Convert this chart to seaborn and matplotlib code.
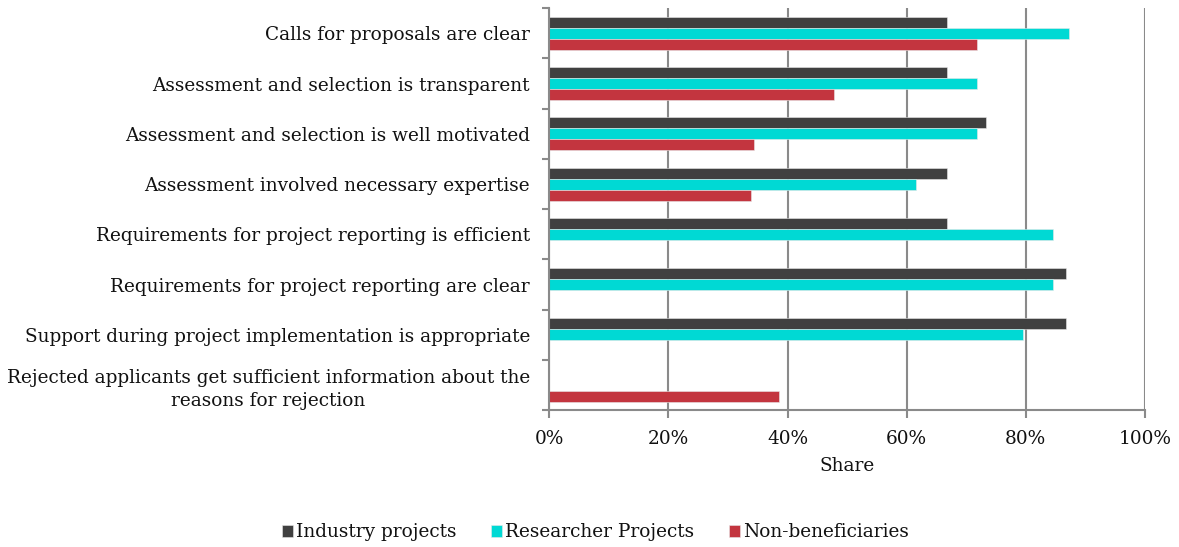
import matplotlib
matplotlib.use("Agg")
import matplotlib.pyplot as plt
import numpy as np
import pandas as pd
import seaborn as sns

# ── Data (shares in %) ────────────────────────────────────────────────────
statements = [
    "Calls for proposals are clear",
    "Assessment and selection is transparent",
    "Assessment and selection is well motivated",
    "Assessment involved necessary expertise",
    "Requirements for project reporting is efficient",
    "Requirements for project reporting are clear",
    "Support during project implementation is appropriate",
    "Rejected applicants get sufficient information about the\nreasons for rejection",
]
industry = [66.7, 66.7, 73.3, 66.7, 66.7, 86.7, 86.7, np.nan]
researcher = [87.2, 71.8, 71.8, 61.5, 84.6, 84.6, 79.5, np.nan]
non_beneficiaries = [71.8, 47.8, 34.3, 33.8, np.nan, np.nan, np.nan, 38.5]

series_names = ["Industry projects", "Researcher Projects", "Non-beneficiaries"]
colors = ["#404040", "#00D9D4", "#C3353F"]

df = pd.DataFrame({
    "statement": statements * 3,
    "group": np.repeat(series_names, len(statements)),
    "share": industry + researcher + non_beneficiaries,
})

# ── Plot ──────────────────────────────────────────────────────────────────
sns.set_style("white")
plt.rcParams["font.family"] = ["DejaVu Serif"]
plt.rcParams["text.color"] = "#111111"
plt.rcParams["xtick.color"] = "#111111"
plt.rcParams["ytick.color"] = "#111111"
plt.rcParams["axes.labelcolor"] = "#111111"
FS = 13.3

fig, ax = plt.subplots(figsize=(11.79, 5.47), dpi=100)
fig.subplots_adjust(left=0.466, right=0.971, top=0.985, bottom=0.25)

sns.barplot(
    data=df, y="statement", x="share", hue="group",
    order=statements, hue_order=series_names, palette=colors,
    orient="h", width=0.66, errorbar=None, ax=ax,
    edgecolor="#e8e8e8", linewidth=0.4, saturation=1,
)

grid_c = "#8a8a8a"
ax.set_xlim(0, 100)
ax.set_ylim(len(statements) - 0.5, -0.5)
ax.set_xticks(np.arange(0, 101, 20))
ax.set_xticklabels([f"{v}%" for v in range(0, 101, 20)], fontsize=FS)
ax.xaxis.grid(True, color=grid_c, linewidth=1.5)
ax.yaxis.grid(False)
ax.set_axisbelow(True)

ax.set_yticks(range(len(statements)))
ax.set_yticklabels(statements, fontsize=FS, multialignment="center", linespacing=1.35)
ax.tick_params(axis="y", which="major", left=False, length=0, pad=14)
ax.set_yticks(np.arange(-0.5, len(statements), 1), minor=True)
ax.tick_params(axis="y", which="minor", left=True, length=5, width=1.5,
               color=grid_c, direction="out")
ax.tick_params(axis="x", bottom=True, length=6, width=1.5, color=grid_c,
               labelcolor="#111111", direction="out", pad=8)

for side in ["top", "right"]:
    ax.spines[side].set_visible(False)
for side in ["left", "bottom"]:
    ax.spines[side].set_color(grid_c)
    ax.spines[side].set_linewidth(1.5)

ax.set_ylabel("")
ax.set_xlabel("Share", fontsize=FS, labelpad=7)

# Legend below the chart
handles, labels = ax.get_legend_handles_labels()
ax.get_legend().remove()
fig.legend(
    handles, labels, loc="lower center", bbox_to_anchor=(0.505, -0.02),
    ncol=3, frameon=False, fontsize=FS, handlelength=0.6, handleheight=0.6,
    handletextpad=0.15, columnspacing=1.9,
)

plt.savefig("out.png", dpi=100)
plt.close()
